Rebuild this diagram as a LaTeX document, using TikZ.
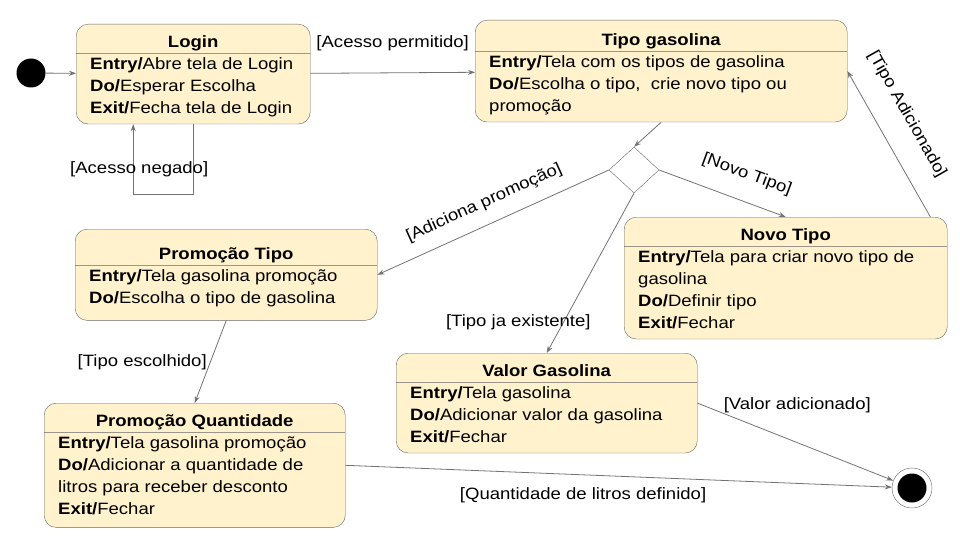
\documentclass[tikz,border=0pt]{standalone}
\usepackage{fontspec}
\setmainfont{Liberation Sans}[FakeStretch=1.13]
\usetikzlibrary{shapes.multipart, shapes.geometric, arrows.meta}
\definecolor{fundo}{HTML}{FFF2CC}
\definecolor{borda}{HTML}{666666}
\newcommand{\titulo}[2][25pt]{\rule[-4.3pt]{0pt}{#1}\textbf{#2}}
\newcommand{\topo}{\rule{0pt}{13.4pt}}
\newcommand{\base}[1][8.6pt]{\rule[-#1]{0pt}{#1}}

\begin{document}
\begin{tikzpicture}[x=1pt, y=-1pt, >={Stealth[length=7pt,width=5pt]},
    font=\fontsize{16.4pt}{22pt}\selectfont,
    estado/.style={rectangle split, rectangle split parts=2,
      rectangle split part align={center,left}, draw=borda, fill=fundo,
      rounded corners=12pt, align=left, inner xsep=14pt, inner ysep=2pt,
      anchor=north west},
    inicio/.style={circle, fill=black, minimum size=29pt, inner sep=0pt},
    fim/.style={circle, draw=borda, minimum size=40pt, inner sep=0pt,
      path picture={\fill (path picture bounding box.center) circle (14.5pt);}},
    escolha/.style={diamond, draw=borda, minimum width=50pt, minimum height=46pt, inner sep=0pt},
    transicao/.style={draw=black!55, line width=0.8pt},
    every edge/.style={transicao}]
  \useasboundingbox (0,0) rectangle (960,540);

  % estados
  \node[inicio]                        (ini)   at (31,73)   {};
  \node[estado, minimum width=234pt]   (login) at (76,24)   {\titulo{Login}
      \nodepart{two}\topo\textbf{Entry/}Abre tela de Login\\
      \textbf{Do/}Esperar Escolha\\
      \textbf{Exit/}Fecha tela de Login\base};
  \node[estado, minimum width=372pt]   (tipo)  at (475,20)  {\titulo[27pt]{Tipo gasolina}
      \nodepart{two}\topo\textbf{Entry/}Tela com os tipos de gasolina\\
      \textbf{Do/}Escolha o tipo,~ crie novo tipo ou\\
      promoção\base};
  \node[escolha]                       (dec)   at (634,170) {};
  \node[estado, minimum width=323pt]   (novo)  at (624,217) {\titulo{Novo Tipo}
      \nodepart{two}\topo\textbf{Entry/}Tela para criar novo tipo de\\
      gasolina\\
      \textbf{Do/}Definir tipo\\
      \textbf{Exit/}Fechar\base};
  \node[estado, minimum width=302pt]   (ptipo) at (75,229)  {\titulo[32pt]{Promoção Tipo}
      \nodepart{two}\topo\textbf{Entry/}Tela gasolina promoção\\
      \textbf{Do/}Escolha o tipo de gasolina\base[15pt]};
  \node[estado, minimum width=301pt]   (pqty)  at (44,403)  {\titulo{Promoção Quantidade}
      \nodepart{two}\topo\textbf{Entry/}Tela gasolina promoção\\
      \textbf{Do/}Adicionar a quantidade de\\
      litros para receber desconto\\
      \textbf{Exit/}Fechar\base[11pt]};
  \node[estado, minimum width=301pt]   (valor) at (396,353) {\titulo{Valor Gasolina}
      \nodepart{two}\topo\textbf{Entry/}Tela gasolina\\
      \textbf{Do/}Adicionar valor da gasolina\\
      \textbf{Exit/}Fechar\base};
  \node[fim]                           (final) at (912,488) {};

  % transicoes
  \path[->] (ini)   edge (login);
  \path[->] (login) edge node[above=18pt] {[Acesso permitido]} (tipo);
  \draw[->, transicao] (login.south) -- ++(0,70) -| ([xshift=-60pt]login.south)
      node[pos=0.68, xshift=6pt] {[Acesso negado]};
  \path[->] (tipo.south) edge (dec.north);
  \path[->] (dec.west)   edge node[sloped, above=10pt] {[Adiciona promoção]} (ptipo.east);
  \path[->] (dec.east)   edge node[sloped, above=15pt, pos=0.62] {[Novo Tipo]} (novo.north);
  \path[->] (dec.south)  edge node[pos=0.81, xshift=-45pt] {[Tipo ja existente]} (valor.north);
  \path[->] ([xshift=-17pt]novo.north east) edge node[sloped, above=19pt, pos=0.6] {[Tipo Adicionado]} (tipo.east);
  \path[->] (ptipo.south) edge node[left] {[Tipo escolhido]} (pqty.north);
  \path[->] (valor.east)  edge node[pos=0.51, above=26pt] {[Valor adicionado]} (final);
  \path[->] (pqty.east)   edge node[pos=0.435, below=9pt] {[Quantidade de litros definido]} (final);
\end{tikzpicture}
\end{document}
